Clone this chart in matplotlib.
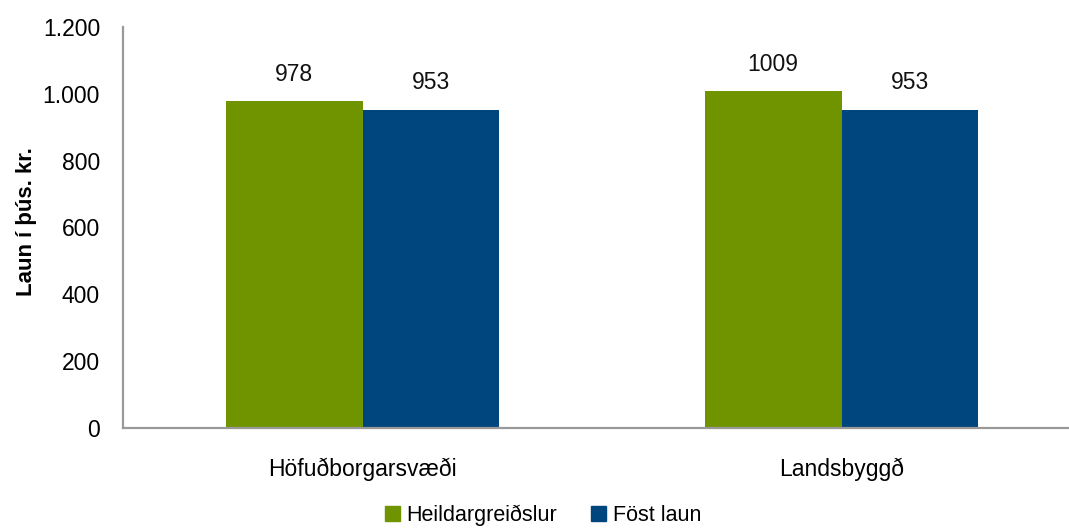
import matplotlib

matplotlib.use("Agg")

import matplotlib.pyplot as plt
import numpy as np
from matplotlib.patches import Patch

categories = ["Höfuðborgarsvæði", "Landsbyggð"]
series_names = ["Heildargreiðslur", "Föst laun"]
heildar = [978, 1009]
fost = [953, 953]
yticks = [0, 200, 400, 600, 800, 1000, 1200]
ytick_labels = ["0", "200", "400", "600", "800", "1.000", "1.200"]

GREEN = "#6f9400"
BLUE = "#00467e"
FS = 16.5

plt.rcParams["font.family"] = ["Liberation Sans", "DejaVu Sans"]

W, H = 1069, 529
fig = plt.figure(figsize=(W / 100, H / 100), dpi=100)
# axis runs off the right edge of the picture, as in the original
ax = fig.add_axes([123 / W, (H - 428) / H, 958 / W, 401 / H])

x = np.arange(len(categories))
bw = 0.286
b1 = ax.bar(x - bw / 2, heildar, bw, color=GREEN, label=series_names[0])
b2 = ax.bar(x + bw / 2, fost, bw, color=BLUE, label=series_names[1])

for bars, vals in ((b1, heildar), (b2, fost)):
    for rect, v in zip(bars, vals):
        ax.annotate(str(v), (rect.get_x() + rect.get_width() / 2, v),
                    xytext=(0, 11), textcoords="offset points",
                    ha="center", va="bottom", fontsize=FS, color="#111111")

ax.set_xlim(-0.5, 1.5)
ax.set_ylim(0, 1200)
ax.set_yticks(yticks)
ax.set_yticklabels(ytick_labels)
ax.set_xticks(x)
ax.set_xticklabels(categories)
ax.tick_params(axis="y", length=0, pad=16.5, labelsize=FS)
ax.tick_params(axis="x", length=0, pad=21, labelsize=FS)

for side in ("top", "right"):
    ax.spines[side].set_visible(False)
for side in ("left", "bottom"):
    ax.spines[side].set_color("#999999")
    ax.spines[side].set_linewidth(1.6)

fig.text(27 / W, 1 - 222 / H, "Laun í þús. kr.", rotation=90, ha="center", va="center",
         fontsize=16, fontweight="bold")

handles = [Patch(color=GREEN, label=series_names[0]), Patch(color=BLUE, label=series_names[1])]
fig.legend(handles=handles, loc="center", bbox_to_anchor=(543 / W, 1 - 515 / H),
           ncol=2, frameon=False, fontsize=15.5, handlelength=0.7, handleheight=0.7,
           handletextpad=0.3, columnspacing=1.6)

fig.savefig("out.png", dpi=100)
